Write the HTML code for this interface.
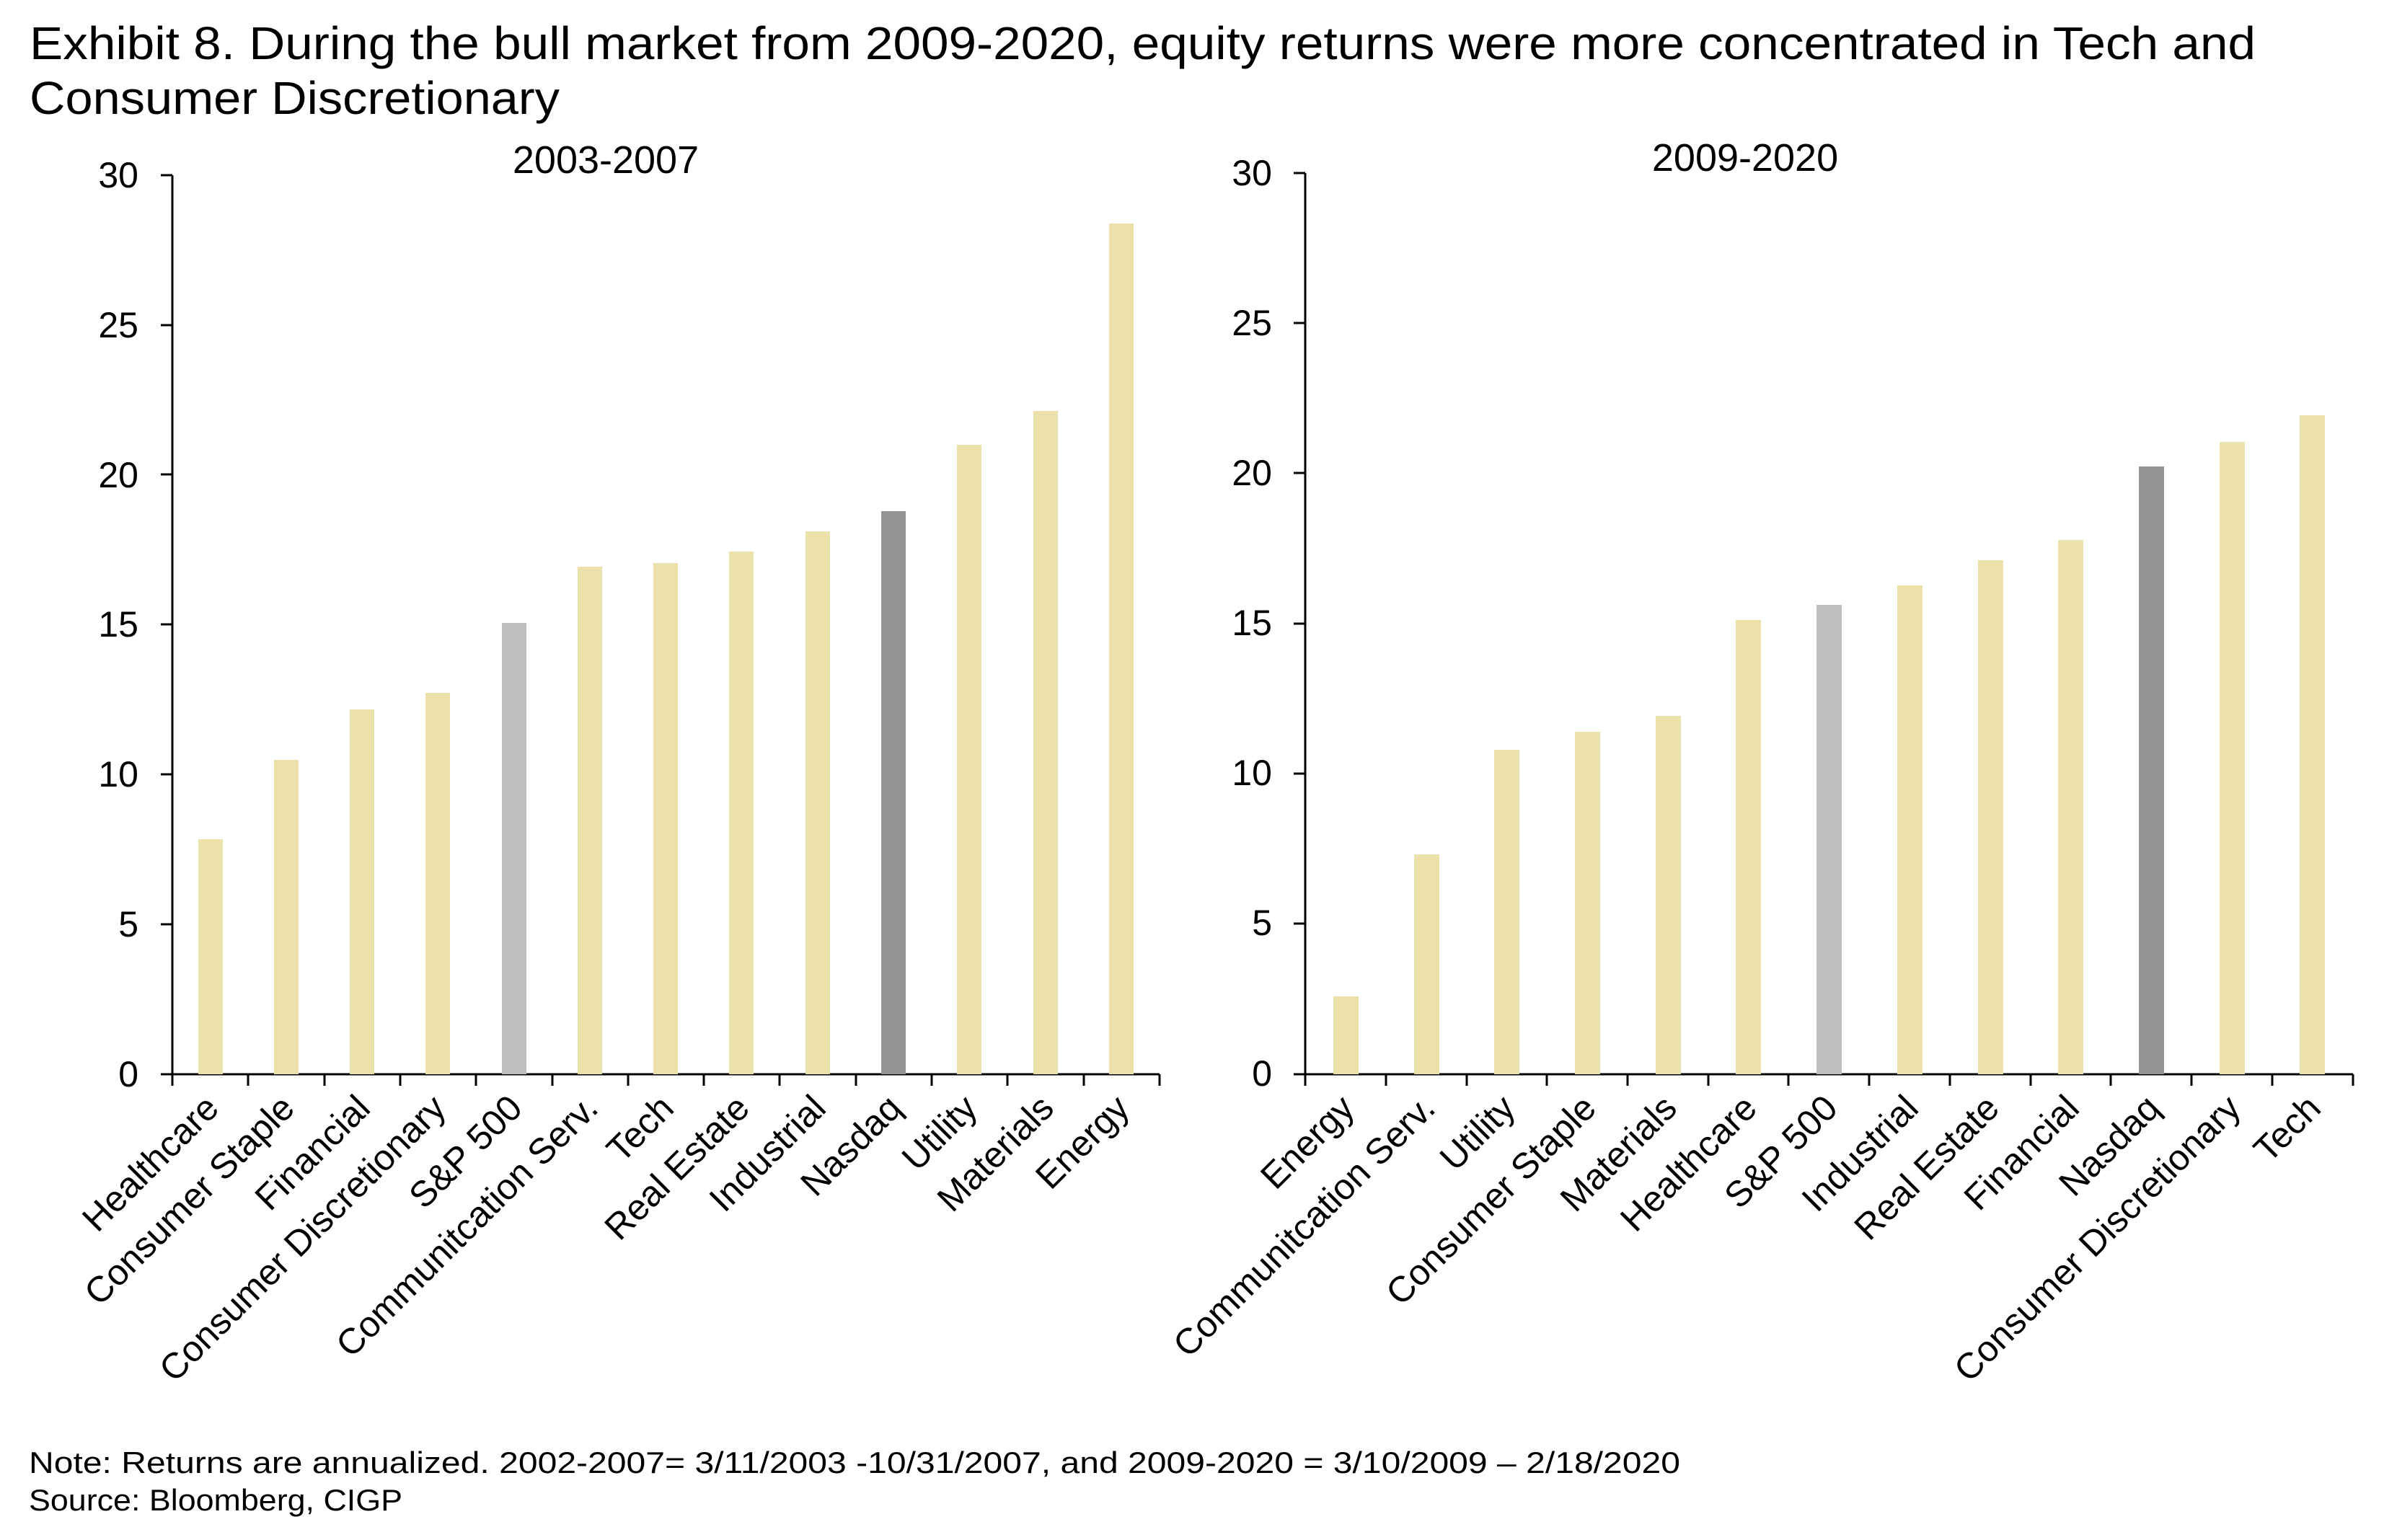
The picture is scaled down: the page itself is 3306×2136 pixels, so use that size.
<!DOCTYPE html>
<html><head><meta charset="utf-8"><style>html,body{margin:0;padding:0;background:#fff}svg{display:block}</style></head>
<body>
<svg width="3306" height="2136" viewBox="0 0 3306 2136" xmlns="http://www.w3.org/2000/svg" font-family="'Liberation Sans', sans-serif" fill="#000">
<text x="41" y="82" font-size="64" textLength="3087" lengthAdjust="spacingAndGlyphs">Exhibit 8. During the bull market from 2009-2020, equity returns were more concentrated in Tech and</text>
<text x="41" y="158" font-size="64" textLength="735" lengthAdjust="spacingAndGlyphs">Consumer Discretionary</text>
<text x="840" y="240" font-size="54" text-anchor="middle">2003-2007</text>
<text x="2420" y="237" font-size="54" text-anchor="middle">2009-2020</text>
<g font-size="50" text-anchor="end">
<text x="192" y="260">30</text><text x="192" y="468">25</text><text x="192" y="676">20</text><text x="192" y="883">15</text><text x="192" y="1091">10</text><text x="192" y="1299">5</text><text x="192" y="1507">0</text>
<text x="1764" y="257">30</text><text x="1764" y="465">25</text><text x="1764" y="673">20</text><text x="1764" y="881">15</text><text x="1764" y="1089">10</text><text x="1764" y="1297">5</text><text x="1764" y="1506">0</text>
</g>
<g stroke="#000" stroke-width="3" fill="none">
<path d="M239,243V1490H1608M223,243H239M223,451H239M223,658H239M223,866H239M223,1074H239M223,1282H239M223,1490H239"/>
<path d="M344,1490v16M450,1490v16M555,1490v16M660,1490v16M766,1490v16M871,1490v16M976,1490v16M1081,1490v16M1187,1490v16M1292,1490v16M1397,1490v16M1503,1490v16M1608,1490v16M239,1490v16"/>
<path d="M1810,240V1490H3263M1794,240H1810M1794,448H1810M1794,656H1810M1794,865H1810M1794,1073H1810M1794,1281H1810M1794,1490H1810"/>
<path d="M1810,1490v16M1922,1490v16M2034,1490v16M2145,1490v16M2257,1490v16M2369,1490v16M2480,1490v16M2592,1490v16M2704,1490v16M2816,1490v16M2927,1490v16M3039,1490v16M3151,1490v16M3263,1490v16"/>
</g>
<g>
<rect x="275" y="1164" width="34" height="326" fill="#ECE1AA"/>
<rect x="380" y="1054" width="34" height="436" fill="#ECE1AA"/>
<rect x="485" y="984" width="34" height="506" fill="#ECE1AA"/>
<rect x="590" y="961" width="34" height="529" fill="#ECE1AA"/>
<rect x="696" y="864" width="34" height="626" fill="#BDBFC0"/>
<rect x="801" y="786" width="34" height="704" fill="#ECE1AA"/>
<rect x="906" y="781" width="34" height="709" fill="#ECE1AA"/>
<rect x="1011" y="765" width="34" height="725" fill="#ECE1AA"/>
<rect x="1117" y="737" width="34" height="753" fill="#ECE1AA"/>
<rect x="1222" y="709" width="34" height="781" fill="#939596"/>
<rect x="1327" y="617" width="34" height="873" fill="#ECE1AA"/>
<rect x="1433" y="570" width="34" height="920" fill="#ECE1AA"/>
<rect x="1538" y="310" width="34" height="1180" fill="#ECE1AA"/>

<rect x="1849" y="1382" width="35" height="108" fill="#ECE1AA"/>
<rect x="1961" y="1185" width="35" height="305" fill="#ECE1AA"/>
<rect x="2072" y="1040" width="35" height="450" fill="#ECE1AA"/>
<rect x="2184" y="1015" width="35" height="475" fill="#ECE1AA"/>
<rect x="2296" y="993" width="35" height="497" fill="#ECE1AA"/>
<rect x="2407" y="860" width="35" height="630" fill="#ECE1AA"/>
<rect x="2519" y="839" width="35" height="651" fill="#BDBFC0"/>
<rect x="2631" y="812" width="35" height="678" fill="#ECE1AA"/>
<rect x="2743" y="777" width="35" height="713" fill="#ECE1AA"/>
<rect x="2854" y="749" width="35" height="741" fill="#ECE1AA"/>
<rect x="2966" y="647" width="35" height="843" fill="#939596"/>
<rect x="3078" y="613" width="35" height="877" fill="#ECE1AA"/>
<rect x="3189" y="576" width="35" height="914" fill="#ECE1AA"/>
</g>
<g font-size="50" text-anchor="end">
<text transform="translate(306,1540) rotate(-45)">Healthcare</text>
<text transform="translate(411,1540) rotate(-45)">Consumer Staple</text>
<text transform="translate(516,1540) rotate(-45)">Financial</text>
<text transform="translate(621,1540) rotate(-45)">Consumer Discretionary</text>
<text transform="translate(727,1540) rotate(-45)">S&amp;P 500</text>
<text transform="translate(832,1540) rotate(-45)">Communitcation Serv.</text>
<text transform="translate(937,1540) rotate(-45)">Tech</text>
<text transform="translate(1042,1540) rotate(-45)">Real Estate</text>
<text transform="translate(1148,1540) rotate(-45)">Industrial</text>
<text transform="translate(1253,1540) rotate(-45)">Nasdaq</text>
<text transform="translate(1358,1540) rotate(-45)">Utility</text>
<text transform="translate(1464,1540) rotate(-45)">Materials</text>
<text transform="translate(1569,1540) rotate(-45)">Energy</text>

<text transform="translate(1881,1540) rotate(-45)">Energy</text>
<text transform="translate(1993,1540) rotate(-45)">Communitcation Serv.</text>
<text transform="translate(2104,1540) rotate(-45)">Utility</text>
<text transform="translate(2216,1540) rotate(-45)">Consumer Staple</text>
<text transform="translate(2328,1540) rotate(-45)">Materials</text>
<text transform="translate(2439,1540) rotate(-45)">Healthcare</text>
<text transform="translate(2551,1540) rotate(-45)">S&amp;P 500</text>
<text transform="translate(2663,1540) rotate(-45)">Industrial</text>
<text transform="translate(2775,1540) rotate(-45)">Real Estate</text>
<text transform="translate(2886,1540) rotate(-45)">Financial</text>
<text transform="translate(2998,1540) rotate(-45)">Nasdaq</text>
<text transform="translate(3110,1540) rotate(-45)">Consumer Discretionary</text>
<text transform="translate(3221,1540) rotate(-45)">Tech</text>
</g>
<text x="40" y="2043" font-size="42" textLength="2290" lengthAdjust="spacingAndGlyphs">Note: Returns are annualized. 2002-2007= 3/11/2003 -10/31/2007, and 2009-2020 = 3/10/2009 – 2/18/2020</text>
<text x="40" y="2095" font-size="42" textLength="518" lengthAdjust="spacingAndGlyphs">Source: Bloomberg, CIGP</text>
</svg>
</body></html>
